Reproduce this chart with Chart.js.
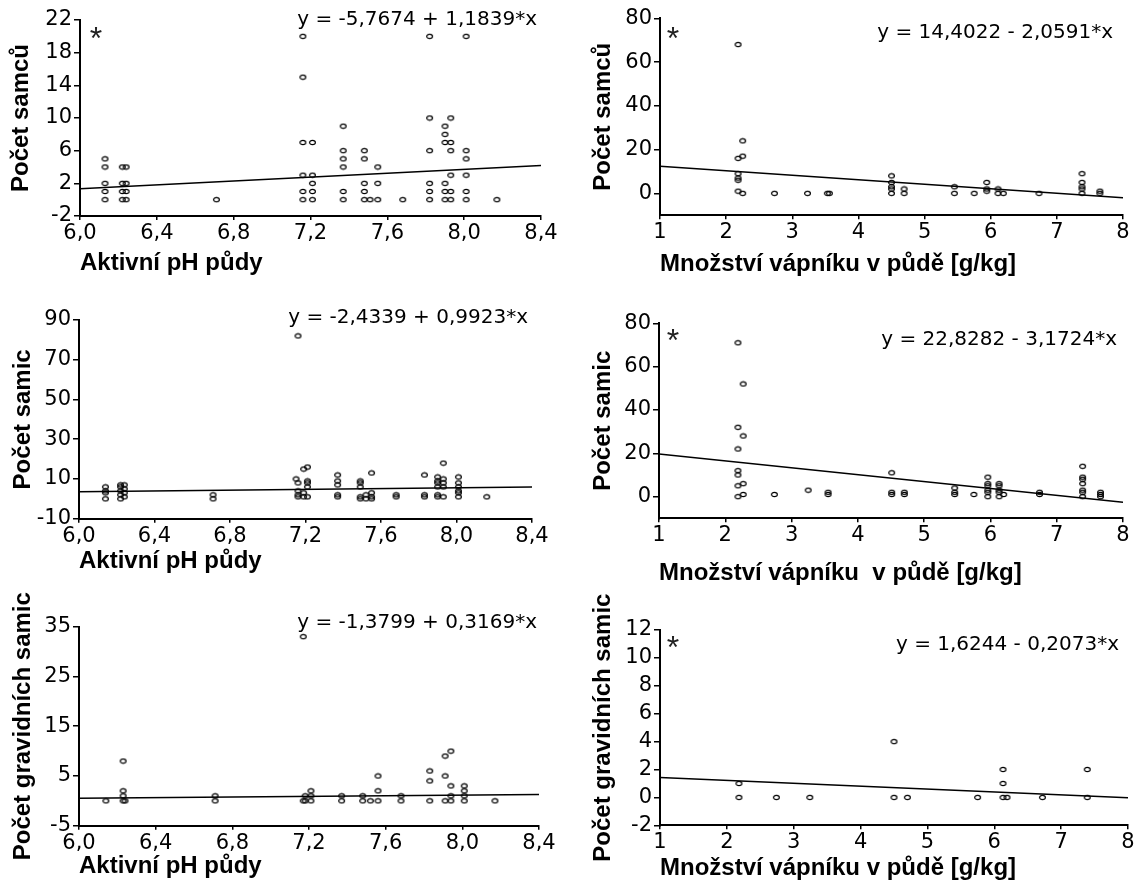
<!DOCTYPE html>
<html>
<head>
<meta charset="utf-8">
<script src="https://cdn.jsdelivr.net/npm/chart.js@4.4.0/dist/chart.umd.min.js"></script>
<style>
    body { margin: 0; background: #fff; width: 1147px; height: 889px; position: relative; overflow: hidden; }
    canvas { position: absolute; }
</style>
</head>
<body>
<canvas id="p1"></canvas>
<canvas id="p2"></canvas>
<canvas id="p3"></canvas>
<canvas id="p4"></canvas>
<canvas id="p5"></canvas>
<canvas id="p6"></canvas>
<script>
// Osy x - pH a vápník
const phTicks = [6.0, 6.4, 6.8, 7.2, 7.6, 8.0, 8.4];
const phTickLabels = ['6,0', '6,4', '6,8', '7,2', '7,6', '8,0', '8,4'];
const caTicks = [1, 2, 3, 4, 5, 6, 7, 8];
const caTickLabels = ['1', '2', '3', '4', '5', '6', '7', '8'];

// Osy y
const samciPhTicks = [-2, 2, 6, 10, 14, 18, 22];
const samciCaTicks = [0, 20, 40, 60, 80];
const samicePhTicks = [-10, 10, 30, 50, 70, 90];
const samiceCaTicks = [0, 20, 40, 60, 80];
const gravPhTicks = [-5, 5, 15, 25, 35];
const gravCaTicks = [-2, 0, 2, 4, 6, 8, 10, 12];

// Počet samců vs pH
const samciPhX = [6.13, 6.13, 6.13, 6.13, 6.13, 6.22, 6.22, 6.22, 6.22, 6.24, 6.24, 6.24, 6.24, 6.71,
    7.16, 7.16, 7.16, 7.16, 7.16, 7.16, 7.21, 7.21, 7.21, 7.21, 7.21, 7.37, 7.37, 7.37, 7.37, 7.37, 7.37,
    7.48, 7.48, 7.48, 7.48, 7.48, 7.51, 7.55, 7.55, 7.55, 7.68, 7.82, 7.82, 7.82, 7.82, 7.82, 7.82,
    7.90, 7.90, 7.90, 7.90, 7.90, 7.90, 7.93, 7.93, 7.93, 7.93, 7.93, 7.93, 8.01, 8.01, 8.01, 8.01, 8.01, 8.01, 8.17];
const samciPhY = [5, 4, 2, 1, 0, 4, 2, 1, 0, 4, 2, 1, 0, 0,
    20, 15, 7, 3, 1, 0, 7, 3, 2, 1, 0, 9, 6, 5, 4, 1, 0,
    6, 5, 2, 1, 0, 0, 4, 2, 0, 0, 20, 10, 6, 2, 1, 0,
    9, 8, 7, 2, 1, 0, 10, 7, 6, 3, 1, 0, 20, 6, 5, 3, 1, 0, 0];

// Počet samců vs vápník
const samciCaX = [2.18, 2.18, 2.18, 2.18, 2.18, 2.18, 2.25, 2.25, 2.25, 2.73, 3.23, 3.53, 3.56,
    4.50, 4.50, 4.50, 4.50, 4.50, 4.69, 4.69, 5.45, 5.45, 5.75, 5.94, 5.94, 5.94, 6.11, 6.11, 6.19, 6.73,
    7.38, 7.38, 7.38, 7.38, 7.38, 7.65, 7.65];
const samciCaY = [68, 16, 9, 7, 6, 1, 24, 17, 0, 0, 0, 0, 0,
    8, 5, 3, 2, 0, 2, 0, 3, 0, 0, 5, 2, 1, 2, 0, 0, 0,
    9, 5, 3, 2, 0, 1, 0];

// Počet samic vs pH
const samicePhX = [6.14, 6.14, 6.14, 6.14, 6.22, 6.22, 6.22, 6.22, 6.22, 6.24, 6.24, 6.24, 6.24, 6.71, 6.71,
    7.15, 7.16, 7.16, 7.16, 7.16, 7.16, 7.19, 7.19, 7.19, 7.21, 7.21, 7.21, 7.21, 7.21,
    7.37, 7.37, 7.37, 7.37, 7.37, 7.49, 7.49, 7.49, 7.49, 7.49, 7.52, 7.52, 7.55, 7.55, 7.55, 7.55,
    7.68, 7.68, 7.83, 7.83, 7.83, 7.90, 7.90, 7.90, 7.90, 7.90, 7.90, 7.93, 7.93, 7.93, 7.93, 7.93,
    8.01, 8.01, 8.01, 8.01, 8.01, 8.01, 8.16];
const samicePhY = [6, 4, 3, 0, 7, 6, 4, 2, 0, 7, 5, 3, 1, 2, 0,
    10, 82, 8, 4, 2, 1, 15, 3, 1, 16, 9, 8, 6, 1,
    12, 9, 7, 2, 1, 9, 8, 6, 1, 0, 2, 0, 13, 3, 1, 0,
    2, 1, 12, 2, 1, 11, 9, 8, 6, 2, 1, 18, 10, 8, 6, 1,
    11, 8, 6, 4, 3, 1, 1];

// Počet samic vs vápník
const samiceCaX = [2.19, 2.19, 2.19, 2.19, 2.19, 2.19, 2.19, 2.27, 2.27, 2.27, 2.27, 2.74, 3.25, 3.55, 3.55,
    4.51, 4.51, 4.51, 4.70, 4.70, 5.46, 5.46, 5.46, 5.75, 5.96, 5.96, 5.96, 5.96, 5.96, 5.96,
    6.13, 6.13, 6.13, 6.13, 6.13, 6.20, 6.74, 6.74, 7.39, 7.39, 7.39, 7.39, 7.39, 7.39, 7.39, 7.66, 7.66, 7.66];
const samiceCaY = [71, 32, 22, 12, 10, 5, 0, 52, 28, 6, 1, 1, 3, 2, 1,
    11, 2, 1, 2, 1, 4, 2, 1, 1, 9, 6, 5, 3, 2, 0,
    6, 5, 3, 2, 0, 1, 2, 1, 14, 9, 8, 6, 3, 2, 0, 2, 1, 0];

// Počet gravidních samic vs pH
const gravPhX = [6.14, 6.23, 6.23, 6.23, 6.23, 6.24, 6.71, 6.71, 7.17, 7.17, 7.18, 7.18, 7.21, 7.21, 7.21,
    7.37, 7.37, 7.48, 7.48, 7.52, 7.56, 7.56, 7.56, 7.68, 7.68, 7.83, 7.83, 7.83, 7.91, 7.91, 7.91,
    7.94, 7.94, 7.94, 7.94, 8.01, 8.01, 8.01, 8.01, 8.17];
const gravPhY = [0, 8, 2, 1, 0, 0, 1, 0, 33, 0, 1, 0, 2, 1, 0,
    1, 0, 1, 0, 0, 5, 2, 0, 1, 0, 6, 4, 0, 9, 5, 0,
    10, 3, 1, 0, 3, 2, 1, 0, 0];

// Počet gravidních samic vs vápník
const gravCaX = [2.18, 2.18, 2.74, 3.24, 4.50, 4.50, 4.70, 5.75, 6.13, 6.13, 6.13, 6.19, 6.72, 7.39, 7.39];
const gravCaY = [1, 0, 0, 0, 4, 0, 0, 0, 2, 1, 0, 0, 0, 2, 0];

// Regresní přímky (konce)
const phLineX = [6.0, 8.4];
const caLineX = [1, 8];
const samciPhLineY = [1.34, 4.18];
const samciCaLineY = [12.34, -2.07];
const samicePhLineY = [3.52, 5.90];
const samiceCaLineY = [19.66, -2.55];
const gravPhLineY = [0.52, 1.28];
const gravCaLineY = [1.42, -0.03];

const equations = [
    'y = -5,7674 + 1,1839*x', 'y = 14,4022 - 2,0591*x',
    'y = -2,4339 + 0,9923*x', 'y = 22,8282 - 3,1724*x',
    'y = -1,3799 + 0,3169*x', 'y = 1,6244 - 0,2073*x'
];
const phTitle = 'Aktivní pH půdy';
const caTitle = 'Množství vápníku v půdě [g/kg]';
const caTitle2 = 'Množství vápníku  v půdě [g/kg]';
const yTitles = ['Počet samců', 'Počet samců', 'Počet samic', 'Počet samic', 'Počet gravidních samic', 'Počet gravidních samic'];

const tickFont = { family: 'DejaVu Sans', size: 21 };
const titleFont = { family: 'Liberation Sans', size: 24, weight: 'bold', lineHeight: 1.2 };

// bod jako malá elipsa
function ellipsePoint() {
    const c = document.createElement('canvas');
    c.width = 9; c.height = 7;
    const g = c.getContext('2d');
    g.strokeStyle = '#000';
    g.lineWidth = 1.2;
    g.beginPath();
    g.ellipse(4.5, 3.5, 2.9, 2.1, 0, 0, Math.PI * 2);
    g.stroke();
    return c;
}
const dot = ellipsePoint();

const panelText = {
    id: 'panelText',
    afterDraw(chart, args, opts) {
        const ctx = chart.ctx;
        ctx.save();
        ctx.fillStyle = '#000';
        ctx.font = '20px "DejaVu Sans"';
        ctx.textAlign = 'right';
        ctx.textBaseline = 'middle';
        ctx.fillText(opts.eq, opts.eqX, opts.eqY);
        if (opts.star) {
            ctx.fillStyle = '#222';
            ctx.font = '32px "Liberation Sans"';
            ctx.textAlign = 'center';
            ctx.fillText('*', opts.starX, opts.starY);
        }
        ctx.restore();
    }
};

function pts(xs, ys) {
    return xs.map((x, i) => ({ x: x, y: ys[i] }));
}

function makePanel(id, p) {
    const cv = document.getElementById(id);
    const h = Math.round(p.titleY + 14.4 - p.y);
    cv.width = p.w; cv.height = h;
    cv.style.left = p.x + 'px';
    cv.style.top = p.y + 'px';

    new Chart(cv, {
        type: 'scatter',
        data: {
            datasets: [{
                data: pts(p.xs, p.ys),
                pointStyle: dot,
                pointRadius: 3,
                borderColor: '#000',
                backgroundColor: 'transparent'
            }, {
                data: pts(p.lineX, p.lineY),
                showLine: true,
                pointRadius: 0,
                borderColor: '#000',
                borderWidth: 1.5
            }]
        },
        options: {
            responsive: false,
            animation: false,
            events: [],
            layout: { padding: { top: p.T - p.y, right: p.x + p.w - p.R, left: 0, bottom: 0 } },
            plugins: {
                legend: { display: false },
                tooltip: { enabled: false },
                panelText: {
                    eq: p.eq, eqX: p.eqX - p.x, eqY: p.eqY - p.y,
                    star: p.star, starX: p.starX - p.x, starY: p.starY - p.y
                }
            },
            scales: {
                x: {
                    type: 'linear',
                    min: p.xTicks[0], max: p.xTicks[p.xTicks.length - 1],
                    afterBuildTicks: s => { s.ticks = p.xTicks.map(v => ({ value: v })); },
                    afterFit: s => { s.height = p.y + h - p.B; },
                    ticks: {
                        font: tickFont, color: '#000', padding: 1, maxRotation: 0, autoSkip: false,
                        callback: (v, i) => p.xLabels[i]
                    },
                    grid: { drawOnChartArea: false, drawTicks: true, tickLength: 4, color: '#000', lineWidth: 1.5 },
                    border: { display: true, color: '#000', width: 2 },
                    title: { display: true, text: p.xTitle, align: 'start', font: titleFont, color: '#000', padding: { top: 0, bottom: 0 } }
                },
                y: {
                    type: 'linear',
                    min: p.yMin, max: p.yMax,
                    afterBuildTicks: s => { s.ticks = p.yTicks.map(v => ({ value: v })); },
                    afterFit: s => { s.width = p.L - p.x; },
                    ticks: { font: tickFont, color: '#000', padding: 2, autoSkip: false, callback: v => String(v) },
                    grid: { drawOnChartArea: false, drawTicks: true, tickLength: 6, color: '#000', lineWidth: 1.5 },
                    border: { display: true, color: '#000', width: 2 },
                    title: { display: true, text: p.yTitle, font: titleFont, color: '#000', padding: { top: p.yTitleX - p.x - 14.4, bottom: 0 } }
                }
            }
        },
        plugins: [panelText]
    });
}

makePanel('p1', {
    x: 0, y: 0, w: 570, L: 80, R: 541, T: 20, B: 216, titleY: 263.5, yTitleX: 21,
    xs: samciPhX, ys: samciPhY, lineX: phLineX, lineY: samciPhLineY,
    xTicks: phTicks, xLabels: phTickLabels, yTicks: samciPhTicks, yMin: -2, yMax: 22,
    xTitle: phTitle, yTitle: yTitles[0],
    eq: equations[0], eqX: 537, eqY: 20, star: true, starX: 96, starY: 40
});
makePanel('p2', {
    x: 580, y: 0, w: 567, L: 660, R: 1123, T: 18.3, B: 215.2, titleY: 265, yTitleX: 603,
    xs: samciCaX, ys: samciCaY, lineX: caLineX, lineY: samciCaLineY,
    xTicks: caTicks, xLabels: caTickLabels, yTicks: samciCaTicks, yMin: -10, yMax: 80,
    xTitle: caTitle, yTitle: yTitles[1],
    eq: equations[1], eqX: 1113, eqY: 33, star: true, starX: 673, starY: 40
});
makePanel('p3', {
    x: 0, y: 290, w: 570, L: 79, R: 532, T: 320, B: 518.7, titleY: 561.6, yTitleX: 23.5,
    xs: samicePhX, ys: samicePhY, lineX: phLineX, lineY: samicePhLineY,
    xTicks: phTicks, xLabels: phTickLabels, yTicks: samicePhTicks, yMin: -10, yMax: 90,
    xTitle: phTitle, yTitle: yTitles[2],
    eq: equations[2], eqX: 528, eqY: 318, star: false
});
makePanel('p4', {
    x: 580, y: 290, w: 567, L: 659, R: 1123, T: 323.3, B: 518.3, titleY: 573.6, yTitleX: 603,
    xs: samiceCaX, ys: samiceCaY, lineX: caLineX, lineY: samiceCaLineY,
    xTicks: caTicks, xLabels: caTickLabels, yTicks: samiceCaTicks, yMin: -10, yMax: 80,
    xTitle: caTitle2, yTitle: yTitles[3],
    eq: equations[3], eqX: 1117, eqY: 340, star: true, starX: 673, starY: 342
});
makePanel('p5', {
    x: 0, y: 590, w: 570, L: 79, R: 539, T: 626.7, B: 825.7, titleY: 866.6, yTitleX: 23.5,
    xs: gravPhX, ys: gravPhY, lineX: phLineX, lineY: gravPhLineY,
    xTicks: phTicks, xLabels: phTickLabels, yTicks: gravPhTicks, yMin: -5, yMax: 35,
    xTitle: phTitle, yTitle: yTitles[4],
    eq: equations[4], eqX: 537, eqY: 623, star: false
});
makePanel('p6', {
    x: 580, y: 590, w: 567, L: 660, R: 1128, T: 630, B: 825.3, titleY: 868.6, yTitleX: 603,
    xs: gravCaX, ys: gravCaY, lineX: caLineX, lineY: gravCaLineY,
    xTicks: caTicks, xLabels: caTickLabels, yTicks: gravCaTicks, yMin: -2, yMax: 12,
    xTitle: caTitle, yTitle: yTitles[5],
    eq: equations[5], eqX: 1119, eqY: 645, star: true, starX: 673, starY: 649
});
</script>
</body>
</html>
